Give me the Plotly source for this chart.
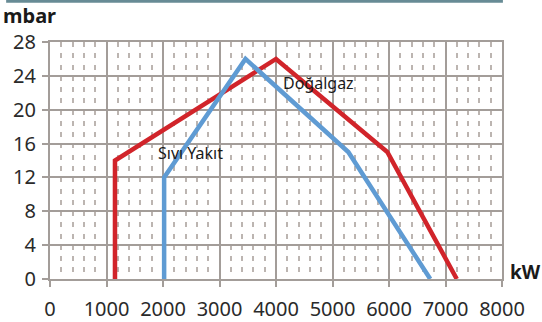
import plotly.graph_objects as go

# Data
dogalgaz_kw = [1150, 1150, 4000, 5970, 7200]
dogalgaz_mbar = [0, 14, 26, 15, 0]
sivi_kw = [2020, 2020, 3460, 5280, 6730]
sivi_mbar = [0, 12, 26, 15, 0]
x_ticks = [0, 1000, 2000, 3000, 4000, 5000, 6000, 7000, 8000]
y_ticks = [0, 4, 8, 12, 16, 20, 24, 28]
label_dogalgaz = "Doğalgaz"
label_sivi = "Sıvı Yakıt"

RED = "#d1242a"
BLUE = "#5f9bd3"
GRID = "#a39d99"
MINOR = "#bcb5b1"
FONT = "Noto Sans"

fig = go.Figure()
fig.add_trace(go.Scatter(x=dogalgaz_kw, y=dogalgaz_mbar, mode="lines",
                         line=dict(color=RED, width=4.5), name=label_dogalgaz,
                         showlegend=False))
fig.add_trace(go.Scatter(x=sivi_kw, y=sivi_mbar, mode="lines",
                         line=dict(color=BLUE, width=4.5), name=label_sivi,
                         showlegend=False))

fig.add_annotation(x=4080, y=23.2, text=label_dogalgaz, showarrow=False,
                   xanchor="left", yanchor="middle",
                   font=dict(family=FONT, size=16, color="#1a1a1a"))
fig.add_annotation(x=1880, y=14.9, text=label_sivi, showarrow=False,
                   xanchor="left", yanchor="middle",
                   font=dict(family=FONT, size=16, color="#1a1a1a"))

# axis titles as annotations
fig.add_annotation(xref="paper", yref="paper", x=-0.108, y=1.11, text="<b>mbar</b>",
                   showarrow=False, xanchor="left", yanchor="middle",
                   font=dict(family=FONT, size=20, color="#1a1a1a"))
fig.add_annotation(xref="paper", yref="paper", x=1.014, y=0.03, text="<b>kW</b>",
                   showarrow=False, xanchor="left", yanchor="middle",
                   font=dict(family=FONT, size=19, color="#1a1a1a"))

# top bar
fig.add_shape(type="rect", xref="paper", yref="paper", x0=-0.097, x1=1.002,
              y0=1.166, y1=1.177, fillcolor="#678b95", line=dict(width=0))

fig.update_xaxes(range=[0, 8000], tickvals=x_ticks, ticktext=[str(v) for v in x_ticks],
                 automargin=False, ticklabelstandoff=5,
                 showgrid=True, gridcolor=GRID, gridwidth=2,
                 showline=True, linecolor=GRID, linewidth=2, mirror=True,
                 ticks="outside", ticklen=6, tickwidth=2, tickcolor=GRID,
                 zeroline=False,
                 tickfont=dict(family=FONT, size=20, color="#2a2a2a"),
                 minor=dict(dtick=200, tick0=0, showgrid=True, gridcolor=MINOR,
                            gridwidth=1.5, griddash="5px,6.27px", ticks=""))
fig.update_yaxes(range=[0, 28], tickvals=y_ticks, ticktext=[str(v) for v in y_ticks],
                 automargin=False, ticklabelstandoff=2,
                 showgrid=True, gridcolor=GRID, gridwidth=2,
                 showline=True, linecolor=GRID, linewidth=2, mirror=True,
                 ticks="outside", ticklen=6, tickwidth=2, tickcolor=GRID,
                 zeroline=False,
                 tickfont=dict(family=FONT, size=20, color="#2a2a2a"))

fig.update_layout(width=542, height=322, margin=dict(l=50, r=40, t=42, b=43),
                  plot_bgcolor="white", paper_bgcolor="white",
                  font=dict(family=FONT))

fig.write_html("out.html", config={"displayModeBar": False},
               post_script="document.body.style.margin='0';document.body.style.overflow='hidden';")
